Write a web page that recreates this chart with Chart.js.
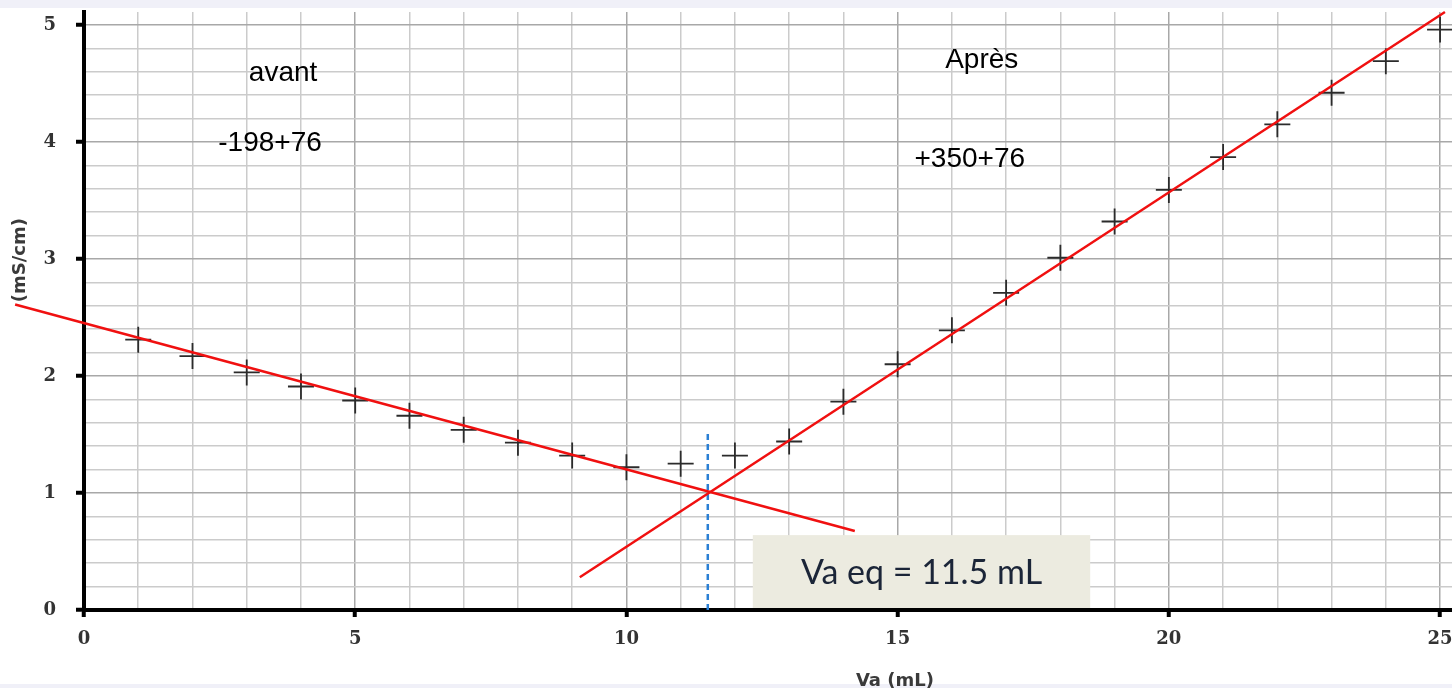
<!DOCTYPE html>
<html>
<head>
<meta charset="utf-8">
<script src="https://cdn.jsdelivr.net/npm/chart.js@4"></script>
<style>
  html, body { margin: 0; padding: 0; background: #fff; overflow: hidden; }
  #wrap { width: 1452px; height: 688px; position: relative; }
  canvas { display: block; }
</style>
</head>
<body>
<div id="wrap"><canvas id="condChart"></canvas></div>
<script>
// volumes versés (mL) et conductivité mesurée (mS/cm)
const volumes = [1, 2, 3, 4, 5, 6, 7, 8, 9, 10, 11, 12, 13, 14, 15, 16, 17, 18, 19, 20, 21, 22, 23, 24, 25];
const conductivite = [2.31, 2.17, 2.03, 1.91, 1.79, 1.66, 1.54, 1.43, 1.32, 1.22, 1.25, 1.32, 1.44,
  1.78, 2.10, 2.39, 2.71, 3.01, 3.32, 3.59, 3.87, 4.15, 4.42, 4.69, 4.96];

// droites tracées à la main
const droiteAvant = [{ x: -1.27, y: 2.61 }, { x: 14.21, y: 0.675 }];
const droiteApres = [{ x: 9.14, y: 0.28 }, { x: 25.09, y: 5.11 }];
const vEq = 11.5;
const equivalence = [{ x: vEq, y: 0 }, { x: vEq, y: 1.52 }];

const xTickLabels = [0, 5, 10, 15, 20, 25];
const yTickLabels = [0, 1, 2, 3, 4, 5];

const isInt = v => Math.abs(v - Math.round(v)) < 1e-6;

// textes et encadré
const annotPlugin = {
  id: 'annot',
  beforeDraw(chart) {
    const ctx = chart.ctx;
    ctx.save();
    ctx.fillStyle = '#f0f0f8';
    ctx.fillRect(0, 0, chart.width, 8);
    ctx.fillRect(0, 684, chart.width, 4);
    ctx.restore();
  },
  afterDraw(chart) {
    const ctx = chart.ctx;
    const xs = chart.scales.x, ys = chart.scales.y;
    ctx.save();
    ctx.fillStyle = '#000';
    ctx.textAlign = 'center';
    ctx.textBaseline = 'middle';
    ctx.font = '28px "Liberation Sans", Arial, sans-serif';
    ctx.fillText('avant', xs.getPixelForValue(3.67), ys.getPixelForValue(4.59));
    ctx.fillText('-198+76', xs.getPixelForValue(3.43), ys.getPixelForValue(3.99));
    ctx.fillText('Après', xs.getPixelForValue(16.55), ys.getPixelForValue(4.70));
    ctx.fillText('+350+76', xs.getPixelForValue(16.33), ys.getPixelForValue(3.85));

    // encadré Va eq
    const bx = xs.getPixelForValue(12.33), bx2 = xs.getPixelForValue(18.55);
    const by = ys.getPixelForValue(0.64), by2 = ys.getPixelForValue(0.0) - 2;
    ctx.fillStyle = '#ecebe0';
    ctx.fillRect(bx, by, bx2 - bx, by2 - by);
    ctx.fillStyle = '#1b2538';
    ctx.font = '34px Lato, "Open Sans", sans-serif';
    ctx.fillText('Va eq = 11.5 mL', (bx + bx2) / 2, (by + by2) / 2 + 1);

    // titres des axes
    ctx.fillStyle = '#3a3a3a';
    ctx.font = 'bold 18px "DejaVu Sans", sans-serif';
    ctx.fillText('Va (mL)', xs.getPixelForValue(14.95), 681);
    ctx.translate(20, ys.getPixelForValue(2.99));
    ctx.rotate(-Math.PI / 2);
    ctx.fillText('(mS/cm)', 0, 0);
    ctx.restore();
  }
};

const tickFont = { family: '"DejaVu Serif", serif', weight: 'bold', size: 18 };

const ctx = document.getElementById('condChart').getContext('2d');
new Chart(ctx, {
  type: 'scatter',
  data: {
    datasets: [
      {
        label: 'avant',
        data: droiteAvant,
        showLine: true,
        borderColor: '#f01010',
        borderWidth: 2.5,
        pointRadius: 0,
        clip: false
      },
      {
        label: 'après',
        data: droiteApres,
        showLine: true,
        borderColor: '#f01010',
        borderWidth: 2.5,
        pointRadius: 0,
        clip: false
      },
      {
        label: 'équivalence',
        data: equivalence,
        showLine: true,
        borderColor: '#2a7fd4',
        borderWidth: 2.5,
        borderDash: [6, 4],
        pointRadius: 0
      },
      {
        label: 'mesures',
        data: volumes.map((v, i) => ({ x: v, y: conductivite[i] })),
        pointStyle: 'cross',
        pointRadius: 13,
        pointBorderWidth: 1.8,
        pointBorderColor: '#2b2b2b',
        clip: false
      }
    ]
  },
  options: {
    responsive: true,
    maintainAspectRatio: false,
    animation: false,
    layout: { autoPadding: false, padding: { top: 12, right: 0, left: 0, bottom: 0 } },
    plugins: { legend: { display: false }, tooltip: { enabled: false } },
    scales: {
      x: {
        type: 'linear',
        min: 0,
        max: 25.22,
        afterFit: s => { s.height = 78; s.paddingLeft = 0; s.paddingRight = 0; },
        border: { color: '#000', width: 4 },
        grid: {
          color: c => (c.tick && isInt(c.tick.value / 5)) ? '#a8a8a8' : '#cbcbcb',
          lineWidth: 1.5,
          tickLength: 7,
          tickWidth: 4,
          tickColor: c => (c.tick && xTickLabels.includes(c.tick.value)) ? '#000' : 'rgba(0,0,0,0)'
        },
        ticks: {
          stepSize: 1,
          includeBounds: false,
          autoSkip: false,
          maxRotation: 0,
          padding: 12,
          color: '#333',
          font: tickFont,
          callback: v => xTickLabels.includes(v) ? String(v) : ''
        }
      },
      y: {
        type: 'linear',
        min: 0,
        max: 5.11,
        afterFit: s => { s.width = 84; s.paddingTop = 0; s.paddingBottom = 0; },
        border: { color: '#000', width: 4 },
        grid: {
          color: c => (c.tick && isInt(c.tick.value)) ? '#a8a8a8' : '#cbcbcb',
          lineWidth: 1.5,
          tickLength: 8,
          tickWidth: 4,
          tickColor: c => (c.tick && isInt(c.tick.value)) ? '#000' : 'rgba(0,0,0,0)'
        },
        ticks: {
          stepSize: 0.2,
          includeBounds: false,
          autoSkip: false,
          padding: 20,
          color: '#333',
          font: tickFont,
          callback: v => isInt(v) && yTickLabels.includes(Math.round(v)) ? String(Math.round(v)) : ''
        }
      }
    }
  },
  plugins: [annotPlugin]
});
</script>
</body>
</html>
